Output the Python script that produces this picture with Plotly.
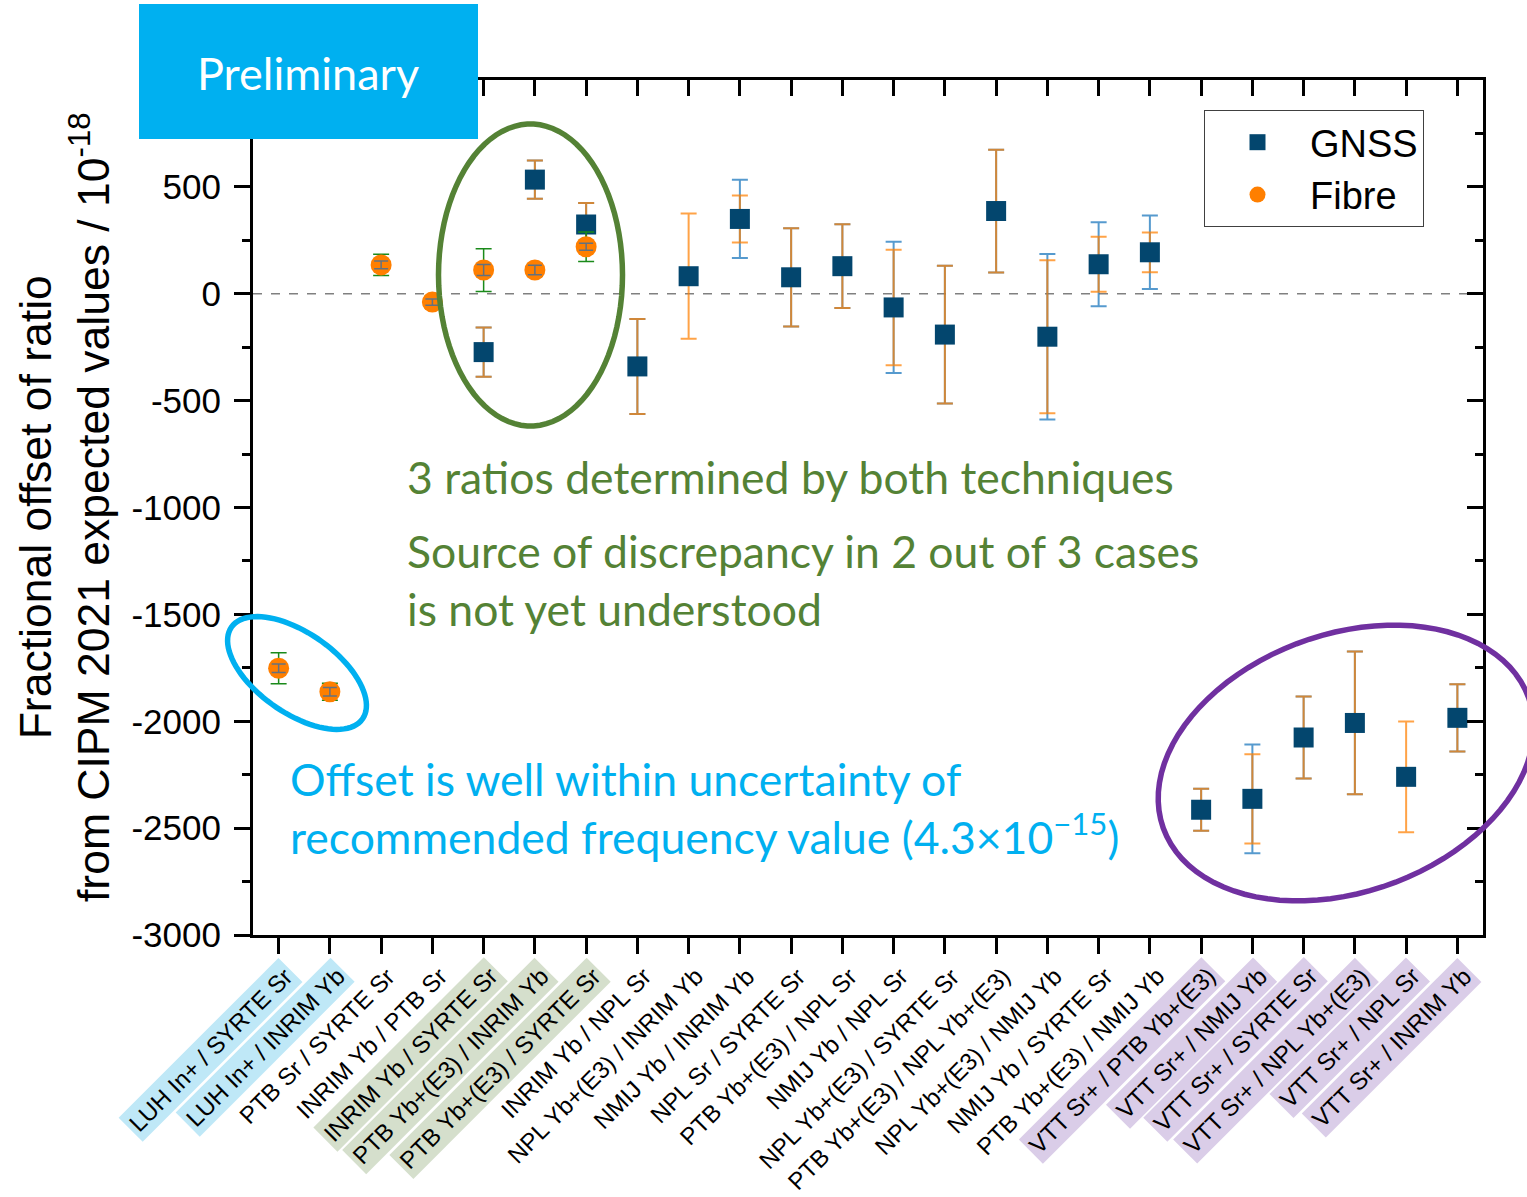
import math
import plotly.graph_objects as go

# ---------------- data ----------------
categories = [
    "LUH In+ / SYRTE Sr", "LUH In+ / INRIM Yb", "PTB Sr / SYRTE Sr", "INRIM Yb / PTB Sr",
    "INRIM Yb / SYRTE Sr", "PTB Yb+(E3) / INRIM Yb", "PTB Yb+(E3) / SYRTE Sr", "INRIM Yb / NPL Sr",
    "NPL Yb+(E3) / INRIM Yb", "NMIJ Yb / INRIM Yb", "NPL Sr / SYRTE Sr", "PTB Yb+(E3) / NPL Sr",
    "NMIJ Yb / NPL Sr", "NPL Yb+(E3) / SYRTE Sr", "PTB Yb+(E3) / NPL Yb+(E3)", "NPL Yb+(E3) / NMIJ Yb",
    "NMIJ Yb / SYRTE Sr", "PTB Yb+(E3) / NMIJ Yb", "VTT Sr+ / PTB Yb+(E3)", "VTT Sr+ / NMIJ Yb",
    "VTT Sr+ / SYRTE Sr", "VTT Sr+ / NPL Yb+(E3)", "VTT Sr+ / NPL Sr", "VTT Sr+ / INRIM Yb",
]
label_group = ["blue", "blue", None, None, "green", "green", "green", None,
               None, None, None, None, None, None, None, None,
               None, None, "purple", "purple", "purple", "purple", "purple", "purple"]

gnss_value = [None, None, None, None, -273, 534, 324, -340, 82, 350, 77, 129,
              -64, -191, 387, -201, 138, 194, -2414, -2363, -2076, -2008, -2260, -1984]
gnss_err_orange = [None, None, None, None, 115, 89, 101, 222, 293, 110, 230, 196,
                   270, 322, 287, 358, 129, 93, 98, 209, 192, 334, 259, 157]
gnss_err_blue = [None, None, None, None, 115, 89, 101, 222, 0, 183, 230, 196,
                 307, 322, 287, 387, 196, 172, 98, 254, 192, 334, 0, 157]

fibre_value = [-1752, -1862, 135, -39, 111, 111, 220] + [None] * 17
fibre_err = [73, 40, 50, 27, 100, 28, 69] + [None] * 17
fibre_err_inner = [20, 20, 18, 15, 26, 22, 16] + [None] * 17

y_tickvals = [-3000, -2500, -2000, -1500, -1000, -500, 0, 500]
y_ticktext = ["-3000", "-2500", "-2000", "-1500", "-1000", "-500", "0", "500"]
y_minor = [-2750, -2250, -1750, -1250, -750, -250, 250, 750]

x_idx = list(range(len(categories)))

# ---------------- layout geometry ----------------
W, H = 1527, 1197
L, R, T, B = 253, 1483, 80, 935


def px2paper(px, py):
    return (px - L) / (R - L), (B - py) / (B - T)


def ellipse_path(cx, cy, a, b, ang_deg, n=90):
    th = math.radians(ang_deg)
    pts = []
    for k in range(n):
        t = 2 * math.pi * k / n
        ex, ey = a * math.cos(t), b * math.sin(t)
        px = cx + ex * math.cos(th) - ey * math.sin(th)
        py = cy + ex * math.sin(th) + ey * math.cos(th)
        pts.append(px2paper(px, py))
    return "M " + " L ".join(f"{x:.5f},{y:.5f}" for x, y in pts) + " Z"


GNSS_C = "#03466e"
FIBRE_C = "#ff7f00"
AX_FONT = "Liberation Sans, Arial, sans-serif"
CAL_FONT = "Lato, sans-serif"

fig = go.Figure()

# GNSS blue uncertainty (drawn first, under)
fig.add_trace(go.Scatter(
    x=x_idx, y=gnss_value, mode="markers",
    marker=dict(size=1, color="rgba(0,0,0,0)"),
    error_y=dict(type="data", array=gnss_err_blue, visible=True,
                 color="rgba(30,120,190,0.75)", thickness=2, width=8),
    showlegend=False, hoverinfo="skip"))

# GNSS main
fig.add_trace(go.Scatter(
    x=x_idx, y=gnss_value, mode="markers", name="GNSS",
    marker=dict(symbol="square", size=20, color=GNSS_C),
    error_y=dict(type="data", array=gnss_err_orange, visible=True,
                 color="rgba(255,127,0,0.72)", thickness=2, width=8)))

# Fibre main
fig.add_trace(go.Scatter(
    x=x_idx, y=fibre_value, mode="markers", name="Fibre",
    marker=dict(symbol="circle", size=21, color=FIBRE_C),
    error_y=dict(type="data", array=fibre_err, visible=True,
                 color="#1a8a1a", thickness=1.5, width=8)))

# Fibre inner uncertainty, drawn over the markers via overlaid axes
fig.add_trace(go.Scatter(
    x=x_idx, y=fibre_value, mode="markers", xaxis="x2", yaxis="y2",
    marker=dict(size=1, color="rgba(0,0,0,0)"),
    error_y=dict(type="data", array=fibre_err_inner, visible=True,
                 color="rgba(60,110,160,0.8)", thickness=1.5, width=7),
    showlegend=False, hoverinfo="skip"))

axis_common = dict(showgrid=False, zeroline=False, showline=True, linewidth=3,
                   linecolor="black", tickcolor="black", tickwidth=3)

fig.update_layout(
    width=W, height=H,
    margin=dict(l=L, r=W - R, t=T, b=H - B, pad=0),
    plot_bgcolor="white", paper_bgcolor="white",
    font=dict(family=AX_FONT, color="black"),
    xaxis=dict(range=[-0.5, len(categories) - 0.5], tickmode="array", tickvals=x_idx,
               showticklabels=False, ticks="outside", ticklen=16, **axis_common),
    xaxis2=dict(range=[-0.5, len(categories) - 0.5], overlaying="x", side="top",
                tickmode="array", tickvals=x_idx, showticklabels=False,
                ticks="inside", ticklen=16, **axis_common),
    yaxis=dict(range=[-3000, 1000], tickmode="array", tickvals=y_tickvals, ticktext=y_ticktext,
               ticks="outside", ticklen=16, ticklabelstandoff=6,
               tickfont=dict(size=35, family=AX_FONT, color="black"),
               minor=dict(tickmode="array", tickvals=y_minor, ticks="outside", ticklen=8,
                          tickwidth=3, tickcolor="black"),
               **axis_common),
    yaxis2=dict(range=[-3000, 1000], overlaying="y", side="right", tickmode="array",
                tickvals=y_tickvals, showticklabels=False, ticks="inside", ticklen=16,
                minor=dict(tickmode="array", tickvals=y_minor, ticks="inside", ticklen=8,
                           tickwidth=3, tickcolor="black"),
                **axis_common),
    legend=dict(x=(1204 - L) / (R - L), y=(B - 110) / (B - T), xanchor="left", yanchor="top",
                font=dict(size=38, family=AX_FONT, color="black"),
                bgcolor="white", bordercolor="#404040", borderwidth=1,
                itemwidth=95, tracegroupgap=0),
)

shapes = []
# zero line
shapes.append(dict(type="line", xref="paper", yref="y", x0=0, x1=1, y0=0, y1=0,
                   line=dict(color="#808080", width=1.3, dash="dash"), layer="below"))
# ellipses
shapes.append(dict(type="path", xref="paper", yref="paper",
                   path=ellipse_path(530.5, 275, 92, 151, 0),
                   line=dict(color="#548235", width=5.5), layer="above"))
shapes.append(dict(type="path", xref="paper", yref="paper",
                   path=ellipse_path(297, 673, 80, 40, 35),
                   line=dict(color="#00b0f0", width=5.5), layer="above"))
shapes.append(dict(type="path", xref="paper", yref="paper",
                   path=ellipse_path(1346, 763, 194, 129, -19.6),
                   line=dict(color="#7030a0", width=5.5), layer="above"))
# Preliminary box
x0p, y0p = px2paper(139, 139)
x1p, y1p = px2paper(478, 4)
shapes.append(dict(type="rect", xref="paper", yref="paper", x0=x0p, y0=y0p, x1=x1p, y1=y1p,
                   fillcolor="#00b0f0", line=dict(width=0), layer="above"))
fig.update_layout(shapes=shapes)

annotations = []
cx, cy = px2paper(308, 73)
annotations.append(dict(text="Preliminary", xref="paper", yref="paper", x=cx, y=cy,
                        xanchor="center", yanchor="middle", showarrow=False,
                        font=dict(size=45, family=CAL_FONT, color="white")))

# y axis title
tx, ty = px2paper(65, 507)
annotations.append(dict(text="Fractional offset of ratio<br>from CIPM 2021 expected values / 10<sup>-18</sup>",
                        xref="paper", yref="paper", x=tx, y=ty, textangle=-90,
                        xanchor="center", yanchor="middle", showarrow=False,
                        font=dict(size=44.5, family=AX_FONT, color="black")))

# category labels
bg_map = {"blue": "#bfe8f7", "green": "#d5dfcc", "purple": "#dacde8", None: "rgba(0,0,0,0)"}
_, lab_y = px2paper(0, 957)
for i, (cat, grp) in enumerate(zip(categories, label_group)):
    annotations.append(dict(text=cat, xref="x", yref="paper", x=i + 25 / 51.25, y=lab_y,
                            xanchor="right", yanchor="top", textangle=-45, showarrow=False,
                            bgcolor=bg_map[grp], borderpad=3,
                            font=dict(size=24, family=AX_FONT, color="black")))

# commentary text
gx, gy = px2paper(405, 476)
annotations.append(dict(text="3 ratios determined by both techniques", xref="paper", yref="paper",
                        x=gx, y=gy, xanchor="left", yanchor="middle", showarrow=False, align="left",
                        font=dict(size=44.5, family=CAL_FONT, color="#548235")))
gx2, gy2 = px2paper(405, 579)
annotations.append(dict(text="Source of discrepancy in 2 out of 3 cases<br>is not yet understood",
                        xref="paper", yref="paper", x=gx2, y=gy2, xanchor="left", yanchor="middle",
                        showarrow=False, align="left",
                        font=dict(size=44.5, family=CAL_FONT, color="#548235")))
bx, by = px2paper(288, 807)
annotations.append(dict(text="Offset is well within uncertainty of<br>recommended frequency value (4.3×10<sup>−15</sup>)",
                        xref="paper", yref="paper", x=bx, y=by, xanchor="left", yanchor="middle",
                        showarrow=False, align="left",
                        font=dict(size=44.5, family=CAL_FONT, color="#00b0f0")))
fig.update_layout(annotations=annotations)

fig.write_html("out.html")
